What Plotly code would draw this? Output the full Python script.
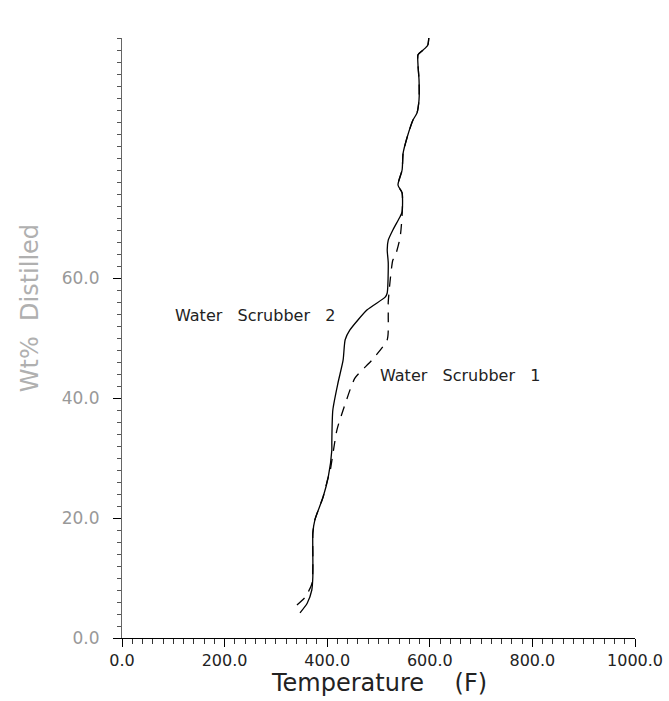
import plotly.graph_objects as go

# Water Scrubber 2 (solid)
ws2_temp = [347, 361, 370, 372, 372, 372, 376, 392, 402, 409, 409, 411, 421, 431, 435, 444, 478, 513, 517,
            519, 517, 519, 528, 542, 546, 546, 538, 546, 548, 556, 567, 575, 579, 579, 577, 577, 587, 596, 598]
ws2_wt = [4.2, 5.8, 8.0, 10.2, 13.8, 17.5, 19.7, 23.5, 26.8, 31.3, 32.5, 38.0, 42.5, 46.3, 49.7, 51.3, 54.7, 56.8, 57.5,
          62.5, 64.7, 66.3, 68.0, 70.2, 71.0, 74.2, 75.5, 78.0, 80.8, 83.5, 86.3, 87.5, 89.7, 93.0, 95.5, 97.2, 98.0, 98.8, 100.0]

# Water Scrubber 1 (dashed)
ws1_temp = [341, 357, 370, 372, 372, 376, 392, 402, 405, 419, 435, 454, 487, 517, 519, 519, 528, 532, 542, 546,
            546, 538, 546, 548, 556, 567, 575, 579, 579, 577, 577, 587, 596, 598]
ws1_wt = [5.5, 6.8, 9.0, 12.0, 17.5, 19.7, 23.5, 26.8, 27.5, 34.7, 39.0, 43.3, 46.3, 49.7, 53.8, 56.0, 63.0, 63.5, 66.7, 70.5,
          74.2, 75.5, 78.0, 80.8, 83.5, 86.3, 87.5, 89.7, 93.0, 95.5, 97.2, 98.0, 98.8, 100.0]

x_ticks = [0, 200, 400, 600, 800, 1000]
x_labels = ["0.0", "200.0", "400.0", "600.0", "800.0", "1000.0"]
y_ticks = [0, 20, 40, 60]
y_labels = ["0.0", "20.0", "40.0", "60.0"]
x_minor = list(range(0, 1001, 20))
y_minor = list(range(0, 101, 2))

FONT = "DejaVu Sans"

fig = go.Figure()
fig.add_trace(go.Scatter(x=ws2_temp, y=ws2_wt, mode="lines", name="Water Scrubber 2",
                         line=dict(color="black", width=1.3, shape="spline", smoothing=0.6)))
fig.add_trace(go.Scatter(x=ws1_temp, y=ws1_wt, mode="lines", name="Water Scrubber 1",
                         line=dict(color="black", width=1.3, dash="10px,8px", shape="spline", smoothing=0.6)))

fig.add_annotation(x=419, y=53.8, text="Water   Scrubber   2", showarrow=False, xanchor="right", yanchor="middle",
                   font=dict(family=FONT, size=16, color="#222"))
fig.add_annotation(x=499, y=43.8, text="Water   Scrubber   1", showarrow=False, xanchor="left", yanchor="middle",
                   font=dict(family=FONT, size=16, color="#222"))
fig.add_annotation(x=-0.179, xref="paper", y=55, yref="y", text="Wt%  Distilled", showarrow=False,
                   textangle=-90, xanchor="center", yanchor="middle",
                   font=dict(family=FONT, size=24, color="#b0b0b0"))
fig.add_annotation(x=0.5, xref="paper", y=-0.1017, yref="paper", text="Temperature    (F)", showarrow=False,
                   xanchor="center", yanchor="bottom",
                   font=dict(family=FONT, size=24, color="#222"))

fig.update_layout(
    width=669, height=701,
    margin=dict(l=122, r=34, t=38, b=63, autoexpand=False),
    paper_bgcolor="white", plot_bgcolor="white",
    showlegend=False,
    font=dict(family=FONT),
)
fig.update_xaxes(
    range=[0, 1000], tickmode="array", tickvals=x_ticks, ticktext=x_labels, automargin=False,
    showgrid=False, zeroline=False, showline=True, linecolor="black", linewidth=1,
    ticks="outside", ticklen=8, tickcolor="black", tickwidth=1,
    minor=dict(tickmode="array", tickvals=x_minor, ticks="outside", ticklen=5, tickcolor="#333", showgrid=False),
    tickfont=dict(family=FONT, size=16, color="#222"),
)
fig.update_yaxes(
    range=[0, 100], tickmode="array", tickvals=y_ticks, ticktext=y_labels, automargin=False,
    showgrid=False, zeroline=False, showline=True, linecolor="#666", linewidth=1,
    ticks="outside", ticklen=8, tickcolor="black", tickwidth=1, ticklabelstandoff=10,
    minor=dict(tickmode="array", tickvals=y_minor, ticks="outside", ticklen=4, tickcolor="#555", showgrid=False),
    tickfont=dict(family=FONT, size=17, color="#999"),
)

fig.write_html("out.html")
